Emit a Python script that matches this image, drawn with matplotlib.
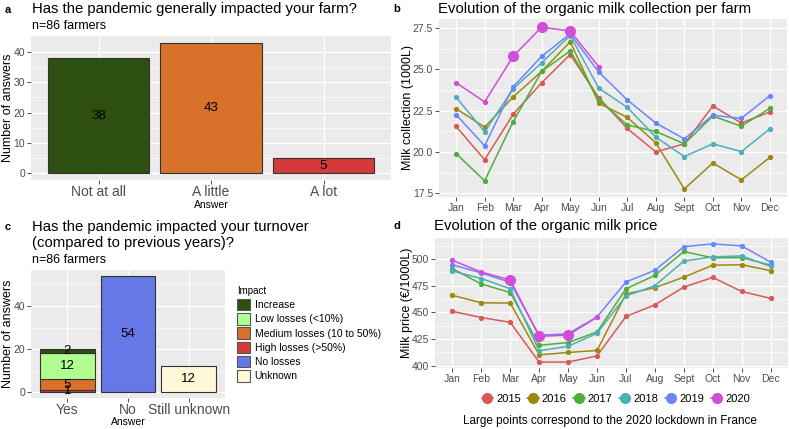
import matplotlib.pyplot as plt
import matplotlib.transforms as mtransforms
from matplotlib.lines import Line2D
from matplotlib.patches import Patch
import numpy as np

# panel a
impact_cats = ['Not at all', 'A little', 'A lot']
impact_vals = [38, 43, 5]
impact_cols = ['#2D5010', '#D8722B', '#D33B3B']

# panel c
turn_cats = ['Yes', 'No', 'Still unknown']
turn_levels = ['Increase', 'Low losses (<10%)', 'Medium losses (10 to 50%)',
               'High losses (>50%)', 'No losses', 'Unknown']
turn_cols = ['#2D5010', '#B0FF90', '#D8722B', '#D33B3B', '#6677E6', '#FFF8D8']
# stacked from bottom: high, medium, low, increase (for "Yes")
yes_stack = [('High losses (>50%)', 1), ('Medium losses (10 to 50%)', 5),
             ('Low losses (<10%)', 12), ('Increase', 2)]
no_val = 54
unknown_val = 12

# panels b and d
months = ['Jan', 'Feb', 'Mar', 'Apr', 'May', 'Jun', 'Jul', 'Aug', 'Sept', 'Oct', 'Nov', 'Dec']
years = ['2015', '2016', '2017', '2018', '2019', '2020']
year_cols = ['#D65A55', '#9C8A0E', '#4CAF3A', '#4FAFB5', '#6B85FF', '#D24DD8']
collection = {
    '2015': [21.54, 19.53, 22.28, 24.19, 25.90, 23.29, 21.42, 20.00, 20.49, 22.78, 21.75, 22.42],
    '2016': [22.62, 21.50, 23.33, 24.88, 26.67, 22.95, 22.09, 20.55, 17.76, 19.33, 18.31, 19.67],
    '2017': [19.90, 18.25, 21.83, 24.88, 26.12, 23.17, 21.63, 21.24, 20.49, 22.17, 21.56, 22.64],
    '2018': [23.31, 21.22, 23.82, 25.40, 27.05, 23.86, 22.70, 20.90, 19.72, 20.49, 20.02, 21.40],
    '2019': [22.26, 20.37, 23.94, 25.79, 27.15, 24.84, 23.15, 21.75, 20.79, 22.22, 22.03, 23.41],
    '2020': [24.19, 23.03, 25.79, 27.56, 27.32, 25.16],
}
price = {
    '2015': [451, 445.2, 440.7, 403.5, 403.5, 409.3, 446.2, 457.1, 473.7, 482.7, 469.6, 463.1],
    '2016': [466, 459, 458.7, 410.3, 412.5, 414.4, 467.3, 473.1, 483, 494.2, 494.6, 489.1],
    '2017': [491, 476.6, 468.6, 419.2, 421.8, 431.7, 472.1, 484.6, 507, 501, 501.3, 494.2],
    '2018': [488.8, 481.7, 472.1, 414.1, 418.3, 430.4, 465.4, 475, 498.1, 501.9, 502.9, 493],
    '2019': [494.6, 486.9, 478.2, 428.5, 430, 445.8, 478.5, 489.4, 511.5, 514.1, 512.2, 497.1],
    '2020': [498.7, 487.8, 480.4, 427.6, 428.8, 445.5],
}
lockdown = [2, 3, 4]  # Mar, Apr, May

W, H = 789, 429
fig = plt.figure(figsize=(W / 100, H / 100), dpi=100)
plt.rcParams['font.family'] = ['Liberation Sans', 'DejaVu Sans']


def box(x0, y0, x1, y1):
    return [x0 / W, 1 - y1 / H, (x1 - x0) / W, (y1 - y0) / H]


def gg_style(ax, minor_y=None):
    ax.set_facecolor('#EBEBEB')
    for s in ax.spines.values():
        s.set_visible(False)
    ax.grid(True, color='white', lw=1.0, zorder=0)
    ax.set_axisbelow(True)
    if minor_y is not None:
        for v in minor_y:
            ax.axhline(v, color='white', lw=0.5, zorder=0)
    ax.tick_params(colors='#333333', labelcolor='#4D4D4D', length=2.75, width=0.6,
                   labelsize=7.5, pad=1.5)


def place_ylabel(ax, xpix):
    tr = mtransforms.blended_transform_factory(fig.transFigure, ax.transAxes)
    ax.yaxis.set_label_coords(xpix / W, 0.5, transform=tr)


def place_xlabel(ax, ypix):
    tr = mtransforms.blended_transform_factory(ax.transAxes, fig.transFigure)
    ax.xaxis.set_label_coords(0.5, 1 - ypix / H, transform=tr)


# ---- panel a
ax = fig.add_axes(box(31, 36, 391, 180))
x = np.arange(1, 4)
ax.bar(x, impact_vals, width=0.9, color=impact_cols, edgecolor='#333333', lw=0.8, zorder=2)
for xi, v in zip(x, impact_vals):
    ax.text(xi, v / 2, str(v), ha='center', va='center', fontsize=9.5, zorder=3)
ax.set_xlim(0.4, 3.6)
ax.set_ylim(-0.05 * 43, 43 * 1.05)
ax.set_yticks([0, 10, 20, 30, 40])
gg_style(ax, minor_y=[5, 15, 25, 35])
ax.set_xticks(x)
ax.set_xticklabels(impact_cats, fontsize=10)
ax.tick_params(axis='x', pad=1)
ax.set_ylabel('Number of answers', fontsize=9)
ax.set_xlabel('Answer', fontsize=7.5)
place_ylabel(ax, 14)
place_xlabel(ax, 200)

# ---- panel c
ax = fig.add_axes(box(31, 270, 225, 398))
bottom = 0
for lvl, v in yes_stack:
    ax.bar(1, v, bottom=bottom, width=0.9, color=turn_cols[turn_levels.index(lvl)],
           edgecolor='#333333', lw=0.8, zorder=2)
    ax.text(1, bottom + v / 2, str(v), ha='center', va='center', fontsize=9.5, zorder=3)
    bottom += v
ax.bar(2, no_val, width=0.9, color=turn_cols[4], edgecolor='#333333', lw=0.8, zorder=2)
ax.text(2, no_val / 2, str(no_val), ha='center', va='center', fontsize=9.5, zorder=3)
ax.bar(3, unknown_val, width=0.9, color=turn_cols[5], edgecolor='#333333', lw=0.8, zorder=2)
ax.text(3, unknown_val / 2, str(unknown_val), ha='center', va='center', fontsize=9.5, zorder=3)
ax.set_xlim(0.4, 3.6)
ax.set_ylim(-0.05 * 54, 54 * 1.05)
ax.set_yticks([0, 20, 40])
gg_style(ax, minor_y=[10, 30, 50])
ax.set_xticks([1, 2, 3])
ax.set_xticklabels(turn_cats, fontsize=10)
ax.tick_params(axis='x', pad=1)
ax.set_ylabel('Number of answers', fontsize=9)
ax.set_xlabel('Answer', fontsize=7.5)
place_ylabel(ax, 14)
place_xlabel(ax, 417)

handles = [Patch(facecolor=c, edgecolor='#555555', lw=0.8) for c in turn_cols]
fig.legend(handles, turn_levels, loc='upper left', bbox_to_anchor=(237 / W, 1 - 286 / H),
           frameon=False, fontsize=7.5, title='Impact', title_fontsize=7,
           handlelength=1.2, handleheight=1.3, labelspacing=0.28, handletextpad=0.5,
           borderaxespad=0, borderpad=0)._legend_box.align = 'left'


# ---- panels b and d
def line_panel(ax, data, ticks, fmt, ylabel):
    allv = [v for y in years for v in data[y]]
    lo, hi = min(allv), max(allv)
    r = hi - lo
    for y, c in zip(years, year_cols):
        vals = data[y]
        xs = np.arange(1, len(vals) + 1)
        ax.plot(xs, vals, color=c, lw=1.1, marker='o', ms=2.8, zorder=3)
    vals20 = data['2020']
    ax.plot([i + 1 for i in lockdown], [vals20[i] for i in lockdown], 'o',
            color=year_cols[-1], ms=7, zorder=4)
    ax.set_xlim(0.4, 12.6)
    ax.set_ylim(lo - 0.05 * r, hi + 0.05 * r)
    ax.set_yticks(ticks)
    ax.set_yticklabels([fmt % t for t in ticks])
    step = ticks[1] - ticks[0]
    minors = [t + step / 2 for t in [ticks[0] - step] + list(ticks)]
    gg_style(ax, minor_y=minors)
    ax.set_xticks(np.arange(1, 13))
    ax.set_xticklabels(months)
    ax.set_ylabel(ylabel, fontsize=9)


ax = fig.add_axes(box(439, 19, 787, 197))
line_panel(ax, collection, [17.5, 20.0, 22.5, 25.0, 27.5], '%.1f', 'Milk collection (1000L)')
place_ylabel(ax, 414)

ax = fig.add_axes(box(435, 238, 788, 368))
line_panel(ax, price, [400, 425, 450, 475, 500], '%d', 'Milk price (€/1000L)')
place_ylabel(ax, 413)

yh = [Line2D([], [], color=c, marker='o', ms=7, lw=1.1) for c in year_cols]
fig.legend(yh, years, loc='center', bbox_to_anchor=(616 / W, 1 - 399 / H), ncol=6,
           frameon=False, fontsize=8, handlelength=1.0, handletextpad=0.3, columnspacing=0.6)
fig.text(610 / W, 1 - 421 / H, 'Large points correspond to the 2020 lockdown in France',
         ha='center', va='center', fontsize=8.5)


# ---- titles
def T(x, y, s, **kw):
    fig.text(x / W, 1 - y / H, s, va='baseline', **kw)


T(5, 13, 'a', fontsize=8, fontweight='bold')
T(32, 13, 'Has the pandemic generally impacted your farm?', fontsize=10.7)
T(32, 29, 'n=86 farmers', fontsize=9)
T(393, 12, 'b', fontsize=8, fontweight='bold')
T(438, 13, 'Evolution of the organic milk collection per farm', fontsize=10.7)
T(5, 230, 'c', fontsize=8, fontweight='bold')
T(32, 231, 'Has the pandemic impacted your turnover', fontsize=10.7)
T(32, 247, '(compared to previous years)?', fontsize=10.7)
T(32, 263, 'n=86 farmers', fontsize=9)
T(393, 229, 'd', fontsize=8, fontweight='bold')
T(434, 230, 'Evolution of the organic milk price', fontsize=10.7)

fig.savefig('out.png', dpi=100)
